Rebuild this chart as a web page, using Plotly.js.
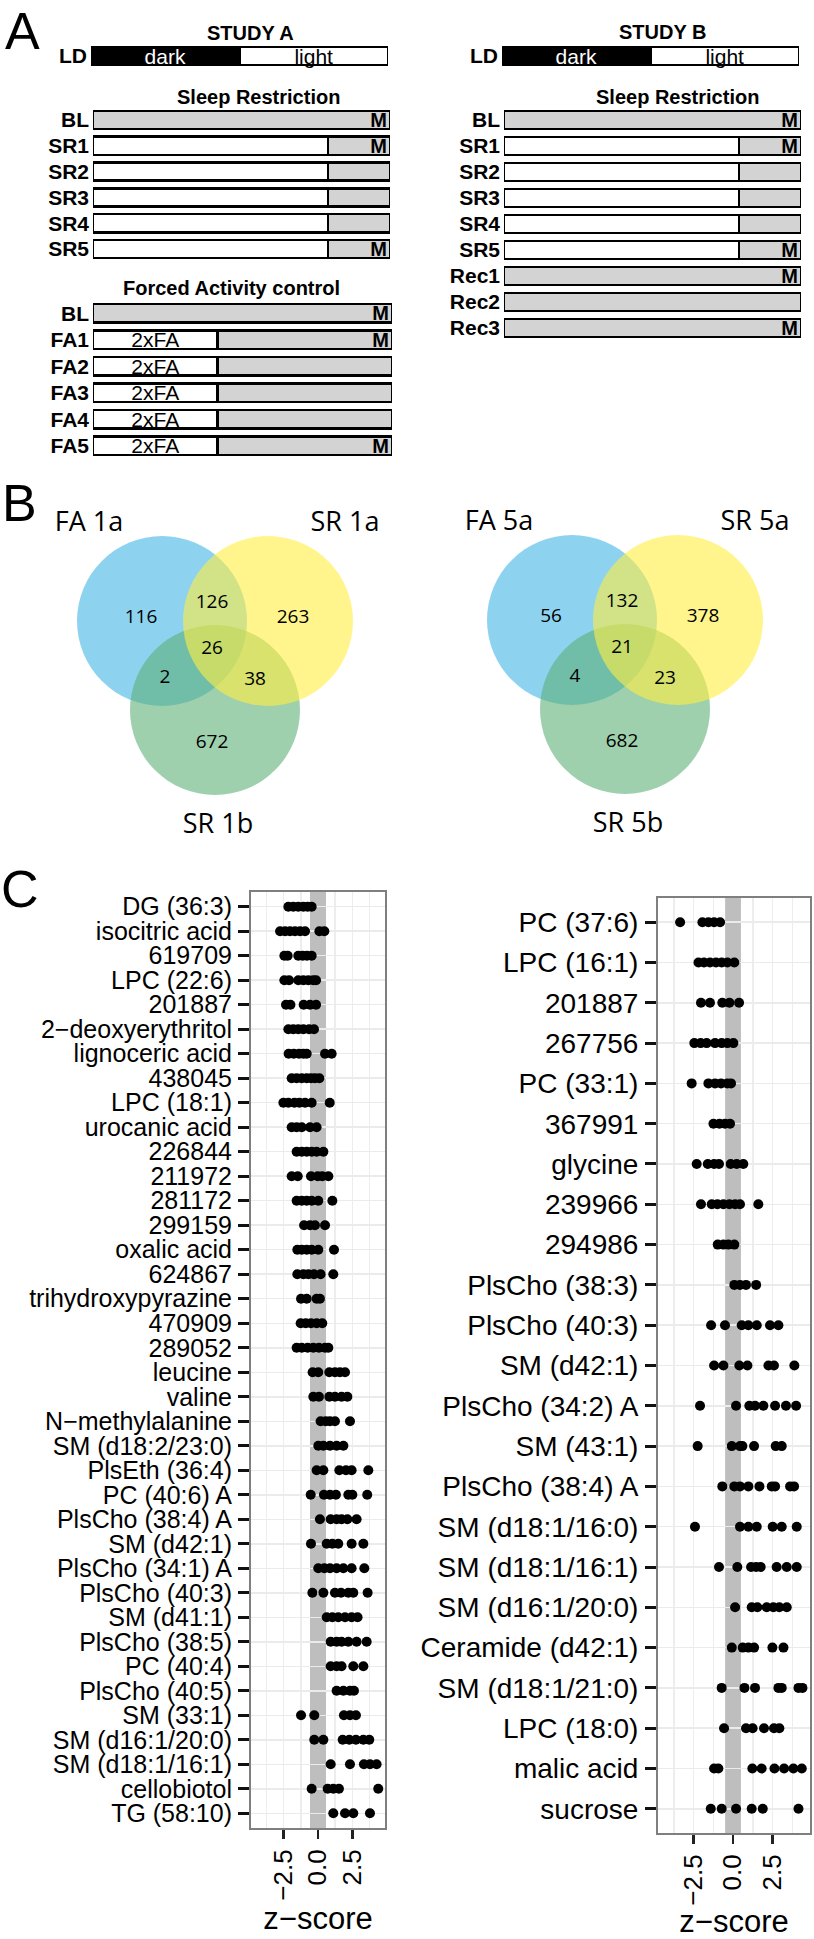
<!DOCTYPE html>
<html>
<head>
<meta charset="utf-8">
<script src="https://cdn.plot.ly/plotly-3.0.1.min.js"></script>
<style>
  html, body { margin: 0; padding: 0; background: #fff; }
  #fig { width: 814px; height: 1939px; }
</style>
</head>
<body>
<div id="fig"></div>
<script>
// ---------- panel A: protocol schematics (hours of a 24 h day) ----------
const ldParts = [12, 12];                 // dark, light
const ldText = ['dark', 'light'];

const srRowsA = ['BL', 'SR1', 'SR2', 'SR3', 'SR4', 'SR5'];
const srAwakeA = [0, 19, 19, 19, 19, 19];
const srSleepA = [24, 5, 5, 5, 5, 5];
const srSampledA = ['M', 'M', '', '', '', 'M'];

const faRows = ['BL', 'FA1', 'FA2', 'FA3', 'FA4', 'FA5'];
const faActive = [0, 10, 10, 10, 10, 10];
const faRest = [24, 14, 14, 14, 14, 14];
const faText = ['', '2xFA', '2xFA', '2xFA', '2xFA', '2xFA'];
const faSampled = ['M', 'M', '', '', '', 'M'];

const srRowsB = ['BL', 'SR1', 'SR2', 'SR3', 'SR4', 'SR5', 'Rec1', 'Rec2', 'Rec3'];
const srAwakeB = [0, 19, 19, 19, 19, 19, 0, 0, 0];
const srSleepB = [24, 5, 5, 5, 5, 5, 24, 24, 24];
const srSampledB = ['M', 'M', '', '', '', 'M', 'M', '', 'M'];

// ---------- panel B: venn counts ----------
// order: A only, A&B, B only, A&B&C, A&C, B&C, C only
const venn1Sets = ['FA 1a', 'SR 1a', 'SR 1b'];
const venn1Counts = [116, 126, 263, 26, 2, 38, 672];
const venn5Sets = ['FA 5a', 'SR 5a', 'SR 5b'];
const venn5Counts = [56, 132, 378, 21, 4, 23, 682];

// ---------- panel C: z-scores per metabolite ----------
const leftLabels = ['DG (36:3)', 'isocitric acid', '619709', 'LPC (22:6)', '201887',
  '2−deoxyerythritol', 'lignoceric acid', '438045', 'LPC (18:1)', 'urocanic acid',
  '226844', '211972', '281172', '299159', 'oxalic acid', '624867', 'trihydroxypyrazine',
  '470909', '289052', 'leucine', 'valine', 'N−methylalanine', 'SM (d18:2/23:0)',
  'PlsEth (36:4)', 'PC (40:6) A', 'PlsCho (38:4) A', 'SM (d42:1)', 'PlsCho (34:1) A',
  'PlsCho (40:3)', 'SM (d41:1)', 'PlsCho (38:5)', 'PC (40:4)', 'PlsCho (40:5)',
  'SM (33:1)', 'SM (d16:1/20:0)', 'SM (d18:1/16:1)', 'cellobiotol', 'TG (58:10)'];
const leftZ = [
  [-2.15, -1.79, -1.43, -1.06, -0.75, -0.46],
  [-2.75, -2.39, -2.03, -1.67, -1.30, -0.94, 0.10, 0.46],
  [-2.44, -2.20, -1.43, -1.11, -0.80, -0.46],
  [-2.44, -2.10, -1.43, -1.06, -0.70, -0.34, -0.14],
  [-2.32, -2.00, -1.04, -0.58, -0.14],
  [-2.15, -1.79, -1.43, -1.06, -0.65, -0.29],
  [-2.13, -1.76, -1.38, -1.06, -0.82, 0.51, 0.99],
  [-1.91, -1.55, -1.18, -0.82, -0.51, -0.22, 0.10],
  [-2.51, -2.15, -1.71, -1.35, -0.94, -0.46, 0.85],
  [-1.91, -1.55, -1.18, -0.58, -0.10],
  [-1.55, -1.18, -0.82, -0.46, -0.10, 0.39],
  [-1.91, -1.47, -0.51, -0.02, 0.31, 0.75],
  [-1.55, -1.18, -0.82, -0.46, 0.02, 1.04],
  [-1.01, -0.58, -0.22, 0.51],
  [-1.50, -1.18, -0.82, -0.46, 0.02, 1.16],
  [-1.50, -1.06, -0.70, -0.29, 0.19, 1.11],
  [-1.23, -0.82, -0.10, 0.14],
  [-1.26, -0.89, -0.51, -0.10, 0.31],
  [-1.55, -1.18, -0.75, -0.34, 0.07, 0.51, 0.75],
  [-0.39, 0.02, 0.82, 1.23, 1.59, 1.96],
  [-0.34, 0.07, 0.82, 1.23, 1.71, 2.13],
  [0.19, 0.56, 0.87, 1.23, 2.32],
  [0.02, 0.39, 0.87, 1.35, 1.84],
  [-0.10, 0.39, 1.55, 2.03, 2.44, 3.65],
  [-0.53, 0.43, 0.87, 1.30, 2.20, 2.49, 3.57],
  [0.14, 0.92, 1.35, 1.71, 2.13, 2.80],
  [-0.51, 0.63, 1.04, 1.47, 2.44, 3.29],
  [0.02, 0.46, 0.87, 1.35, 1.84, 2.44, 3.36],
  [-0.41, 0.39, 1.23, 1.67, 2.20, 2.56, 3.60],
  [0.63, 1.04, 1.47, 1.96, 2.44, 2.87],
  [0.92, 1.35, 1.71, 2.20, 2.80, 3.53],
  [0.92, 1.35, 1.71, 2.56, 3.29],
  [1.35, 1.84, 2.32, 2.61],
  [-1.23, -0.27, 1.88, 2.32, 2.75],
  [-0.27, 0.39, 1.79, 2.27, 2.75, 3.29, 3.72],
  [0.92, 2.32, 3.33, 3.77, 4.25],
  [-0.46, 0.70, 1.11, 1.52, 4.37],
  [1.11, 1.96, 2.56, 3.77]
];

const rightLabels = ['PC (37:6)', 'LPC (16:1)', '201887', '267756', 'PC (33:1)', '367991',
  'glycine', '239966', '294986', 'PlsCho (38:3)', 'PlsCho (40:3)', 'SM (d42:1)',
  'PlsCho (34:2) A', 'SM (43:1)', 'PlsCho (38:4) A', 'SM (d18:1/16:0)', 'SM (d18:1/16:1)',
  'SM (d16:1/20:0)', 'Ceramide (d42:1)', 'SM (d18:1/21:0)', 'LPC (18:0)', 'malic acid', 'sucrose'];
const rightZ = [
  [-3.35, -1.94, -1.56, -1.20, -0.82],
  [-2.19, -1.84, -1.46, -1.08, -0.72, -0.36, 0.08],
  [-2.03, -1.46, -0.68, -0.23, 0.38],
  [-2.45, -2.05, -1.67, -1.14, -0.72, -0.36, 0.02],
  [-2.62, -1.56, -1.14, -0.76, -0.36, -0.13],
  [-1.24, -0.86, -0.51, -0.19],
  [-2.30, -1.60, -1.20, -0.89, -0.15, 0.23, 0.65],
  [-2.03, -1.35, -0.99, -0.61, -0.23, 0.13, 0.44, 1.60],
  [-0.97, -0.61, -0.30, 0.08],
  [0.08, 0.44, 0.82, 1.46],
  [-1.39, -0.51, 0.55, 0.97, 1.50, 2.34, 2.87],
  [-1.20, -0.61, 0.40, 0.91, 2.24, 2.59, 3.88],
  [-2.09, 0.19, 1.03, 1.39, 1.92, 2.66, 3.35, 3.99],
  [-2.24, -0.08, 0.44, 0.59, 1.33, 2.70, 3.08],
  [-0.68, 0.08, 0.44, 0.97, 1.67, 2.45, 2.66, 3.61, 3.86],
  [-2.41, 0.44, 0.97, 1.50, 2.51, 3.08, 4.03],
  [-0.89, 0.27, 1.14, 1.46, 1.75, 2.76, 3.40, 4.03],
  [0.13, 1.18, 1.54, 2.13, 2.55, 2.93, 3.40],
  [-0.08, 0.61, 0.97, 1.33, 2.49, 3.19],
  [-0.72, 0.72, 1.39, 2.87, 3.08, 4.14, 4.39],
  [-0.57, 0.82, 1.24, 1.96, 2.59, 2.93],
  [-1.20, -0.93, 1.22, 1.81, 2.62, 3.23, 3.82, 4.35],
  [-1.41, -0.72, 0.19, 1.18, 1.88, 4.14]
];

// ---------- layout helpers ----------
const W = 814, H = 1939;
const px = p => p / W;
const py = p => 1 - p / H;
const ARIAL = 'Liberation Sans, Arial, sans-serif';
const VFONT = 'Open Sans, Noto Sans, sans-serif';
const GRAYBAR = '#D3D3D3';
const OUTLINE = { color: '#000', width: 2.5 };

function barPair(rows, first, second, ax, opts) {
  const base = {
    type: 'bar', orientation: 'h', y: rows, xaxis: 'x' + ax, yaxis: 'y' + ax,
    textposition: 'inside', constraintext: 'none', textangle: 0,
    hoverinfo: 'skip', showlegend: false
  };
  return [
    Object.assign({}, base, {
      x: first, marker: { color: opts.firstColor || '#fff', line: OUTLINE },
      text: opts.firstText || null, insidetextanchor: 'middle',
      textfont: { family: ARIAL, size: 21, color: opts.firstTextColor || '#000' }
    }),
    Object.assign({}, base, {
      x: second, marker: { color: opts.secondColor || GRAYBAR, line: OUTLINE },
      text: opts.secondText || null, insidetextanchor: opts.secondAnchor || 'end',
      textfont: { family: ARIAL, size: opts.secondSize || 20, color: '#000',
                  weight: opts.secondWeight || 'bold' }
    })
  ];
}

const ldOpts = {
  firstColor: '#000', firstText: [ldText[0]], firstTextColor: '#fff',
  secondColor: '#fff', secondText: [ldText[1]], secondAnchor: 'middle',
  secondSize: 21, secondWeight: 'normal'
};
const traces = [];
traces.push(...barPair(['LD'], [ldParts[0]], [ldParts[1]], '', ldOpts));
traces.push(...barPair(srRowsA, srAwakeA, srSleepA, '2', { secondText: srSampledA }));
traces.push(...barPair(faRows, faActive, faRest, '3', { firstText: faText, secondText: faSampled }));
traces.push(...barPair(['LD'], [ldParts[0]], [ldParts[1]], '4', ldOpts));
traces.push(...barPair(srRowsB, srAwakeB, srSleepB, '5', { secondText: srSampledB }));

// ---------- venn diagrams ----------
const VENN = {
  r: 85, sep: 53, drop: 89,
  regionOffsets: [[-74, -3], [-3, -18], [78, -3], [-3, 28], [-50, 57], [40, 59], [-3, 122]],
  setOffsets: [[-126, -97], [130, -97], [3, 205]],
  colors: ['rgba(65,182,230,0.6)', 'rgba(93,177,120,0.6)', 'rgba(255,238,63,0.6)']
};
const shapes = [];
function addVenn(axn, counts, sets) {
  const c = { blue: [-VENN.sep, 0], green: [0, VENN.drop], yellow: [VENN.sep, 0] };
  [c.blue, c.green, c.yellow].forEach((p, i) => {
    shapes.push({
      type: 'circle', xref: 'x' + axn, yref: 'y' + axn, layer: 'below',
      x0: p[0] - VENN.r, x1: p[0] + VENN.r, y0: p[1] - VENN.r, y1: p[1] + VENN.r,
      fillcolor: VENN.colors[i], line: { width: 0 }
    });
  });
  traces.push({
    type: 'scatter', mode: 'text', xaxis: 'x' + axn, yaxis: 'y' + axn,
    x: VENN.regionOffsets.map(o => o[0]), y: VENN.regionOffsets.map(o => o[1]),
    text: counts.map(String), textfont: { family: VFONT, size: 19, color: '#000' },
    hoverinfo: 'skip', showlegend: false, cliponaxis: false
  });
  traces.push({
    type: 'scatter', mode: 'text', xaxis: 'x' + axn, yaxis: 'y' + axn,
    x: VENN.setOffsets.map(o => o[0]), y: VENN.setOffsets.map(o => o[1]),
    text: sets, textfont: { family: VFONT, size: 27, color: '#000' },
    hoverinfo: 'skip', showlegend: false, cliponaxis: false
  });
}
addVenn('6', venn1Counts, venn1Sets);
addVenn('7', venn5Counts, venn5Sets);

// ---------- dot plots ----------
function dots(labels, zs, axn) {
  const x = [], y = [];
  zs.forEach((row, i) => row.forEach(v => { x.push(v); y.push(labels[i]); }));
  return {
    type: 'scatter', mode: 'markers', x, y, xaxis: 'x' + axn, yaxis: 'y' + axn,
    marker: { color: '#000', size: 10 }, hoverinfo: 'skip', showlegend: false,
    cliponaxis: false
  };
}
traces.push(dots(leftLabels, leftZ, '8'));
traces.push(dots(rightLabels, rightZ, '9'));

const bandHalf = { '8': 0.58, '9': 0.5 };
['8', '9'].forEach(a => shapes.push({
  type: 'rect', xref: 'x' + a, yref: 'y' + a + ' domain', layer: 'below',
  x0: -bandHalf[a], x1: bandHalf[a], y0: 0, y1: 1,
  fillcolor: '#BEBEBE', line: { width: 0 }
}));

// ---------- axes ----------
const hiddenX = (dom, anchor) => ({
  domain: dom, range: [0, 24], visible: false, fixedrange: true, anchor
});
function rowAxis(dom, rows, anchor) {
  return {
    domain: dom, anchor, type: 'category', categoryorder: 'array', categoryarray: rows,
    range: [rows.length - 0.5, -0.5], showgrid: false, zeroline: false, showline: false,
    ticks: '', ticklabelstandoff: 3,
    tickfont: { family: ARIAL, size: 21, color: '#000', weight: 'bold' }
  };
}
function vennAxes(xdom, ydom, xr, yr, anchorX, anchorY) {
  return [
    { domain: xdom, range: xr, visible: false, anchor: anchorY },
    { domain: ydom, range: yr, visible: false, anchor: anchorX }
  ];
}
function dotX(dom, range, anchor) {
  return {
    domain: dom, range, anchor, zeroline: false,
    tickvals: [-2.5, 0, 2.5], ticktext: ['−2.5', '0.0', '2.5'], tickangle: -90,
    ticks: 'outside', ticklen: 9, tickwidth: 2.5, tickcolor: '#222',
    tickfont: { family: ARIAL, size: 26, color: '#000' },
    showgrid: false,
    minor: { tickvals: [-3.75, -2.5, -1.25, 1.25, 2.5, 3.75], showgrid: true,
             gridcolor: '#EDEDED', gridwidth: 1.5 },
    showline: true, mirror: true, linecolor: '#7F7F7F', linewidth: 2,
    title: { text: 'z−score', font: { family: ARIAL, size: 31, color: '#000' }, standoff: 6 }
  };
}
function dotY(dom, labels, anchor, size) {
  return {
    domain: dom, anchor, type: 'category', categoryorder: 'array', categoryarray: labels,
    range: [labels.length - 0.4, -0.6], zeroline: false,
    tickmode: 'array', tickvals: labels, ticktext: labels,
    ticks: 'outside', ticklen: 11, tickwidth: 3, tickcolor: '#111',
    ticklabelstandoff: 1,
    tickfont: { family: ARIAL, size, color: '#000' },
    showgrid: true, gridcolor: '#EBEBEB', gridwidth: 1.5,
    showline: true, mirror: true, linecolor: '#7F7F7F', linewidth: 2
  };
}

const [xv1, yv1] = vennAxes([0, 0.5], [py(850), py(480)], [-215, 192], [229, -141], 'x6', 'y6');
const [xv5, yv5] = vennAxes([0.5, 1], [py(850), py(480)], [-218, 189], [230, -140], 'x7', 'y7');

const annFont = { family: ARIAL, size: 20, color: '#000', weight: 'bold' };
const note = (text, x, y, font) => ({
  text, x: px(x), y: py(y), xref: 'paper', yref: 'paper',
  showarrow: false, xanchor: 'center', yanchor: 'middle', font
});
const letter = { family: ARIAL, size: 52, color: '#000' };

const layout = {
  width: W, height: H, margin: { l: 0, r: 0, t: 0, b: 0 },
  paper_bgcolor: '#fff', plot_bgcolor: '#fff',
  barmode: 'stack', bargap: 0.3, showlegend: false,
  xaxis: hiddenX([px(91), px(388)], 'y'),
  yaxis: rowAxis([py(69), py(43)], ['LD'], 'x'),
  xaxis2: hiddenX([px(93), px(390)], 'y2'),
  yaxis2: rowAxis([py(262), py(107)], srRowsA, 'x2'),
  xaxis3: hiddenX([px(93), px(392)], 'y3'),
  yaxis3: rowAxis([py(459), py(300)], faRows, 'x3'),
  xaxis4: hiddenX([px(502), px(799)], 'y4'),
  yaxis4: rowAxis([py(69), py(43)], ['LD'], 'x4'),
  xaxis5: hiddenX([px(504), px(801)], 'y5'),
  yaxis5: rowAxis([py(341), py(107)], srRowsB, 'x5'),
  xaxis6: xv1, yaxis6: yv1,
  xaxis7: xv5, yaxis7: yv5,
  xaxis8: dotX([px(251), px(385)], [-4.86, 4.86], 'y8'),
  yaxis8: dotY([py(1828), py(892)], leftLabels, 'x8', 25),
  xaxis9: dotX([px(658), px(810)], [-4.75, 4.87], 'y9'),
  yaxis9: dotY([py(1833), py(898)], rightLabels, 'x9', 28),
  shapes,
  annotations: [
    note('A', 22, 31, letter),
    note('B', 19, 503, letter),
    note('C', 20, 889, letter),
    note('STUDY A', 250, 33, annFont),
    note('Sleep Restriction', 258, 97, annFont),
    note('Forced Activity control', 231, 288, annFont),
    note('STUDY B', 662, 32, annFont),
    note('Sleep Restriction', 677, 97, annFont)
  ]
};

Plotly.newPlot('fig', traces, layout, { staticPlot: true, displayModeBar: false });
</script>
</body>
</html>
